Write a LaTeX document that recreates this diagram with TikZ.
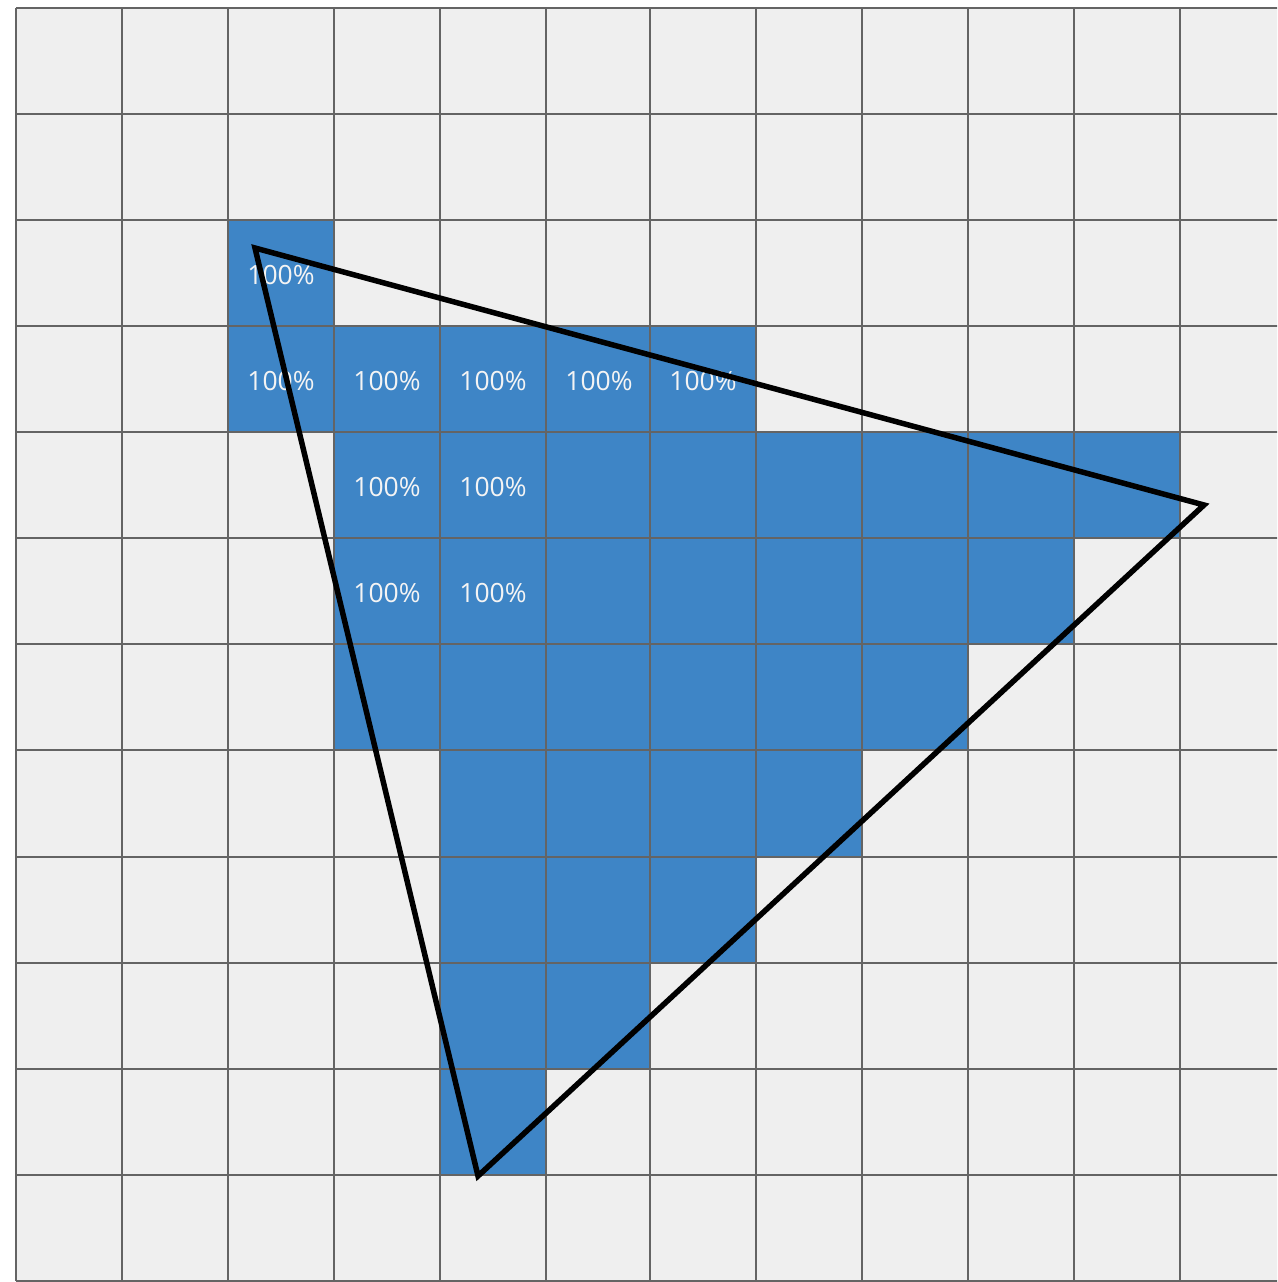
\documentclass[tikz,border=0pt]{standalone}
\usepackage{fontspec}
\setmainfont{Open Sans}
\definecolor{bgc}{HTML}{EFEFEF}
\definecolor{gridc}{HTML}{646464}
\definecolor{bluec}{HTML}{3E85C6}
\definecolor{txtc}{HTML}{F4F4F4}
\begin{document}
\begin{tikzpicture}[x=1pt,y=-1pt,
  gridline/.style={draw=gridc,line width=2pt},
  cellfill/.style={fill=bluec},
  pct/.style={text=txtc,font=\fontsize{26.5}{29}\selectfont,inner sep=0pt},
  tri/.style={draw=black,line width=5.5pt,line join=miter}]
\useasboundingbox (0,0) rectangle (1277,1282);
\clip (0,0) rectangle (1277,1282);
\fill[white] (0,0) rectangle (1277,1282);
\fill[bgc] (16,8) rectangle (1290,1281);
\def\X#1{\ifcase#1 16\or122\or228\or334\or440\or546\or650\or756\or862\or968\or1074\or1180\or1286\fi}
\def\Y#1{\ifcase#1 8\or114\or220\or326\or432\or538\or644\or750\or857\or963\or1069\or1175\or1281\fi}
\foreach \r/\a/\b in {2/2/3,3/2/7,4/3/11,5/3/10,6/3/9,7/4/8,8/4/7,9/4/6,10/4/5}{
  \pgfmathtruncatemacro{\rr}{\r+1}
  \fill[cellfill] (\X{\a},\Y{\r}) rectangle (\X{\b},\Y{\rr});
}
\foreach \c in {0,...,12}{
  \draw[gridline] (\X{\c},\Y{0}) -- (\X{\c},\Y{12});
}
\foreach \r in {0,...,12}{
  \draw[gridline] (\X{0},\Y{\r}) -- (1290,\Y{\r});
}
\node[pct] (t1) at (281,275) {100\%};
\node[pct] (t2) at (281,381) {100\%};
\node[pct] (t3) at (387,381) {100\%};
\node[pct] (t4) at (493,381) {100\%};
\node[pct] (t5) at (599,381) {100\%};
\node[pct] (t6) at (703,381) {100\%};
\node[pct] (t7) at (387,487) {100\%};
\node[pct] (t8) at (493,487) {100\%};
\node[pct] (t9) at (387,593) {100\%};
\node[pct] (t10) at (493,593) {100\%};
\coordinate (A) at (255,248);
\coordinate (B) at (1204,505);
\coordinate (C) at (478,1176);
\draw[tri] (A) -- (B) -- (C) -- cycle;
\end{tikzpicture}
\end{document}
